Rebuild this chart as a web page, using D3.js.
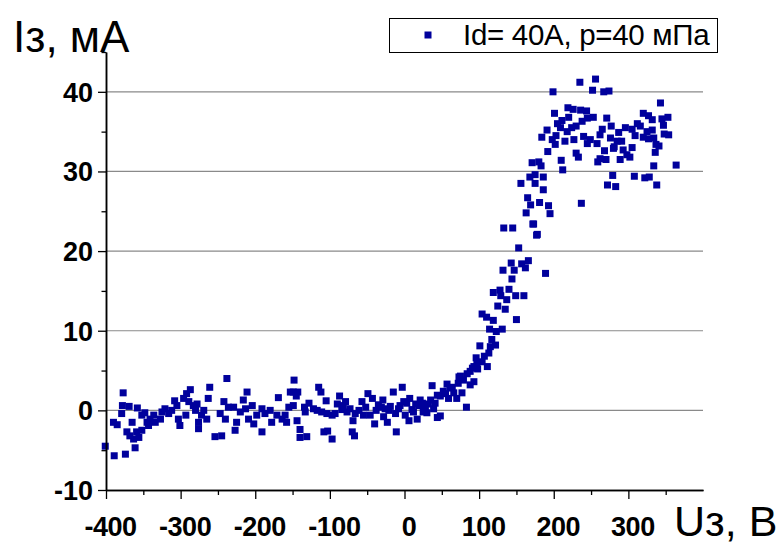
<!DOCTYPE html>
<html>
<head>
<meta charset="utf-8">
<script src="https://cdn.jsdelivr.net/npm/d3@7"></script>
<style>
  html, body { margin: 0; padding: 0; background: #fff; }
  svg { display: block; font-family: "Liberation Sans", Arial, sans-serif; }
</style>
</head>
<body>
<svg id="chart" width="781" height="546"></svg>
<script>
// Probe current I (mA) versus probe voltage U (V)
const seriesLabel = "Id= 40A, p=40 мПа";
const yTitle = "Iз, мА";
const xTitle = "Uз, B";

const xMajorTicks = [-400, -300, -200, -100, 0, 100, 200, 300];
const xMinorTicks = [-350, -250, -150, -50, 50, 150, 250, 350];
const yMajorTicks = [-10, 0, 10, 20, 30, 40];
const yMinorTicks = [-5, 5, 15, 25, 35, 45];
const gridValues = [0, 10, 20, 30, 40];

// Ion-saturation branch, strongly negative bias
const negativeBranch = [
  [-401,-4.5],[-389,-5.7],[-374,-5.5],[-361,-4.7],[-390,-1.5],[-385,-1.8],[-377,2.2],[-378,0.6],
  [-379,-0.4],[-369,0.5],[-372,-2.7],[-368,-3.2],[-363,-3.6],[-356,-3.4],[-359,-2.7],[-352,-2.5],
  [-365,-1.5],[-358,0.3],[-352,-0.6],[-348,-0.3],[-345,-1.5],[-341,-1.1],[-343,-1.9],[-336,-0.6],
  [-334,-1.5],[-327,-1.1],[-325,-0.2],[-321,0.2],[-316,-0.4],[-312,0],[-308,1.2],[-305,0.6],
  [-303,-1.1],[-301,-1.9],[-296,1.5],[-292,2.1],[-287,2.6],[-289,1.1],[-293,-0.6],[-283,0.6],
  [-280,0],[-278,0.8],[-276,-1.5],[-276,-2.3],[-272,-0.6],[-269,0],[-265,-1.1],[-263,1.5],
  [-261,2.9],[-254,-3.3],[-245,-3.2],[-247,-0.4],[-242,1.1],[-238,4.0],[-240,-1.1],[-236,0.4],
  [-229,0.4],[-227,-2.5],[-225,-1.5],[-220,-0.2],[-216,1.3],[-211,2.3],[-213,0.2],[-209,-1.1],
  [-204,0.6],[-202,-1.7],[-198,-0.6],[-191,-2.7],[-191,0.2],[-187,-0.4],[-180,0],[-178,-1.5],
  [-169,1.6],[-171,-0.6],[-164,-1.1],[-160,-0.6],[-155,0.4],[-153,2.3],[-158,-1.5]
];

// Region around the floating potential
const floatingBranch = [
  [-148,3.8],[-149,2.3],[-143,2.3],[-145,1.8],[-149,0.6],[-144,-1.3],[-140,-2.4],[-140,-3.4],
  [-131,-3.3],[-134,0.4],[-128,0.9],[-133,-0.2],[-115,2.9],[-112,2.3],[-122,0.2],[-117,0],
  [-111,-0.2],[-105,1.2],[-108,-2.7],[-103,-2.6],[-97,-3.6],[-104,-0.4],[-97,-0.6],[-93,-0.4],
  [-90,0.8],[-87,1.8],[-84,0.1],[-79,1.1],[-77,-0.2],[-73,0.2],[-70,-2.7],[-67,-3.2],
  [-69,-1.3],[-66,-0.4],[-61,0],[-57,1.1],[-55,-0.6],[-49,2.1],[-43,1.5],[-46,-0.6],
  [-40,-1.7],[-38,0],[-31,0.4],[-29,1.3],[-28,-0.8],[-23,-1.5],[-21,0],[-19,0.5],
  [-15,2.3],[-11,-2.7],[-12,-0.4],[-8,0.2],[-3,2.9],[-1,1.1],[1,-0.6],[6,-1.3],
  [7,1.5],[10,0.1],[15,0.8],[17,-1.1],[21,1.3],[25,-0.2],[28,0.4],[32,0.8],
  [37,3.1],[39,0.2],[44,-0.9],[44,1.9],[-6,0.6],[3,0.9],[12,-0.2],[19,0.6],
  [24,0.9],[30,-0.3],[35,1.3],[41,0.9],[-35,0.7],[-26,0.2],[-52,0.4],[-82,0.6]
];

// Electron-retarding (exponential) region
const risingBranch = [
  [133,22.9],[145,22.9],[173,23.4],[178,22.1],[153,20.4],[166,18.8],[143,18.5],[157,18.4],
  [162,17.9],[147,17.6],[132,17.6],[189,17.2],[144,16.5],[119,14.8],[128,15.1],[129,14.4],
  [140,15.2],[137,13.9],[149,14.4],[160,14.4],[125,13.1],[135,12.7],[104,12.1],[110,11.7],
  [119,11.3],[150,11.4],[114,10.2],[123,9.9],[131,10.2],[117,8.9],[122,8.2],[115,8.0],
  [101,8.1],[113,7.2],[107,6.8],[96,6.6],[104,6.1],[111,5.5],[93,5.5],[98,5.2],
  [88,4.9],[84,4.6],[75,4.3],[79,3.8],[93,3.6],[88,3.2],[72,3.4],[57,3.3],
  [61,2.8],[52,2.4],[66,2.2],[77,2.2],[48,1.8],[59,1.5],[70,1.5],[83,0.4],
  [48,-0.7],[73,4.2],[91,5.3],[97,5.9],[55,2.1],[64,2.9]
];

// Electron-saturation branch
const saturationBranch = [
  [235,41.2],[256,41.6],[252,40.2],[267,40.0],[274,40.1],[199,40.0],[343,38.6],[201,37.3],
  [219,38.0],[226,37.8],[236,37.7],[244,37.6],[220,36.8],[211,36.4],[205,36.0],[209,35.5],
  [191,35.2],[184,34.3],[198,34.0],[203,34.5],[202,33.4],[215,33.8],[218,35.0],[224,35.5],
  [230,35.7],[227,34.0],[238,36.3],[245,36.7],[253,36.8],[240,34.4],[249,34.0],[245,33.5],
  [258,33.5],[262,34.6],[265,35.3],[271,36.7],[277,35.7],[276,34.2],[287,34.9],[285,33.8],
  [291,33.8],[281,33.1],[296,35.5],[305,35.3],[312,36.0],[316,35.7],[309,34.5],[320,37.3],
  [327,37.0],[332,36.5],[345,36.6],[353,36.8],[347,35.8],[325,35.0],[332,35.2],[320,34.3],
  [327,34.1],[334,34.2],[337,33.4],[341,33.2],[336,32.4],[348,34.7],[354,34.6],[293,32.7],
  [298,32.1],[305,33.0],[302,31.8],[289,31.5],[280,32.9],[268,32.6],[262,31.6],[259,31.2],
  [270,31.5],[230,32.3],[233,31.8],[210,31.4],[212,30.2],[192,32.5],[171,31.1],[180,31.2],
  [183,30.7],[168,29.3],[175,29.6],[186,29.3],[156,28.5],[175,28.5],[186,27.7],[165,26.7],
  [169,25.8],[181,26.1],[193,25.7],[195,24.7],[163,24.8],[172,23.4],[177,22.0],[237,26.0],
  [334,30.7],[364,30.8],[279,29.5],[308,29.4],[322,29.2],[328,29.3],[338,28.3],[272,28.3],
  [283,28.1]
];

const measurements = [...negativeBranch, ...floatingBranch, ...risingBranch, ...saturationBranch];

const pointColor = "#00009c";
const markSize = 7;

const svg = d3.select("#chart");

const x = d3.scaleLinear().domain([-400, 400]).range([106, 703]);
const y = d3.scaleLinear().domain([-10, 45]).range([490, 52]);

// horizontal grid lines
svg.append("g")
  .selectAll("line")
  .data(gridValues)
  .join("line")
  .attr("x1", x(-400)).attr("x2", x(400))
  .attr("y1", d => y(d)).attr("y2", d => y(d))
  .attr("stroke", "#8a8a8a")
  .attr("stroke-width", 1.2);

// scatter points
svg.append("g")
  .selectAll("rect")
  .data(measurements)
  .join("rect")
  .attr("x", d => x(d[0]) - markSize / 2)
  .attr("y", d => y(d[1]) - markSize / 2)
  .attr("width", markSize)
  .attr("height", markSize)
  .attr("fill", pointColor);

// axes
const tickFont = g => g.selectAll("text")
  .attr("font-family", "'Liberation Sans', Arial, sans-serif")
  .attr("font-weight", "bold")
  .attr("font-size", 27)
  .attr("fill", "#000");

const styleAxis = g => {
  g.select(".domain").attr("stroke", "#000").attr("stroke-width", 1.5);
  g.selectAll(".tick line").attr("stroke", "#000").attr("stroke-width", 1.3);
};

svg.append("g")
  .attr("transform", `translate(0,${y(-10)})`)
  .call(d3.axisBottom(x).tickValues(xMinorTicks).tickSize(5).tickFormat("").tickSizeOuter(0))
  .call(styleAxis);

svg.append("g")
  .attr("transform", `translate(0,${y(-10)})`)
  .call(d3.axisBottom(x).tickValues(xMajorTicks).tickSize(9).tickSizeOuter(0).tickFormat(d3.format("d")))
  .call(styleAxis)
  .call(tickFont)
  .call(g => g.selectAll(".tick text").attr("y", 46).attr("dy", 0).attr("dx", 4)
    .attr("letter-spacing", "-0.5")
    .text(d => d < 0 ? "-" + Math.abs(d) : String(d)));

svg.append("g")
  .attr("transform", `translate(${x(-400)},0)`)
  .call(d3.axisLeft(y).tickValues(yMinorTicks).tickSize(4.5).tickFormat("").tickSizeOuter(0))
  .call(styleAxis);

svg.append("g")
  .attr("transform", `translate(${x(-400)},0)`)
  .call(d3.axisLeft(y).tickValues(yMajorTicks).tickSize(8).tickPadding(5).tickSizeOuter(0))
  .call(styleAxis)
  .call(tickFont)
  .call(g => g.selectAll(".tick text").attr("dy", "0.35em")
    .text(d => d < 0 ? "-" + Math.abs(d) : String(d)));

// axis titles
svg.append("text")
  .attr("x", 13).attr("y", 52)
  .attr("font-size", 44)
  .attr("fill", "#000")
  .text(yTitle);

svg.append("text")
  .attr("x", 674).attr("y", 536)
  .attr("font-size", 43)
  .attr("fill", "#000")
  .text(xTitle);

// legend
const legend = svg.append("g");
legend.append("rect")
  .attr("x", 389.5).attr("y", 18.5)
  .attr("width", 328).attr("height", 34)
  .attr("fill", "#fff")
  .attr("stroke", "#000")
  .attr("stroke-width", 1);
legend.append("rect")
  .attr("x", 428 - markSize / 2).attr("y", 35 - markSize / 2)
  .attr("width", markSize).attr("height", markSize)
  .attr("fill", pointColor);
legend.append("text")
  .attr("x", 463).attr("y", 45)
  .attr("font-size", 29.5)
  .attr("letter-spacing", "-0.3")
  .attr("fill", "#000")
  .text(seriesLabel);
</script>
</body>
</html>
